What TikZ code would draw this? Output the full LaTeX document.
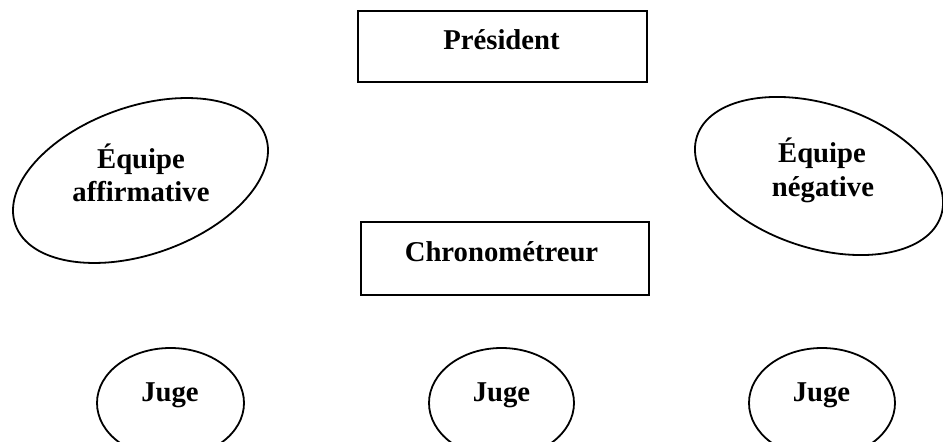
\documentclass[tikz,border=0pt]{standalone}
\usepackage{fontspec}
\setmainfont{Liberation Serif}
\usetikzlibrary{shapes.geometric}
\tikzset{
  lbl/.style={font=\fontsize{28.7}{33}\selectfont\bfseries, inner sep=0pt, anchor=base},
  boxshape/.style={draw, line width=1.9pt, inner sep=0pt, anchor=south west},
  ovalshape/.style={draw, ellipse, line width=1.8pt, inner sep=0pt},
}
\begin{document}
\begin{tikzpicture}[x=1pt,y=1pt]
\useasboundingbox (0,0) rectangle (943,442);
\clip (0,0) rectangle (943,442);
% boxes
\node[boxshape, minimum width=289pt, minimum height=71pt] (pres) at (357,359) {};
\node[boxshape, minimum width=288pt, minimum height=73pt] (chrono) at (360,146) {};
\node[lbl] (presT) at (501.5,392) {Président};
\node[lbl] (chronoT) at (501.5,180) {Chronométreur};
% team ellipses
\node[ovalshape, minimum width=265.4pt, minimum height=147.6pt, rotate=19.5] (aff) at (140.5,261.5) {};
\node[ovalshape, minimum width=256.6pt, minimum height=143.8pt, rotate=-18] (neg) at (819,266) {};
\node[lbl] (affT1) at (141,273) {Équipe};
\node[lbl] (affT2) at (141,240) {affirmative};
\node[lbl] (negT1) at (822,279) {Équipe};
\node[lbl] (negT2) at (823,245) {négative};
% judges
\node[ovalshape, minimum width=147pt, minimum height=110pt] (j1) at (170.5,39) {};
\node[ovalshape, minimum width=145pt, minimum height=110pt] (j2) at (501.5,39) {};
\node[ovalshape, minimum width=146pt, minimum height=110pt] (j3) at (822,39) {};
\node[lbl] (j1T) at (170,40) {Juge};
\node[lbl] (j2T) at (501.5,40) {Juge};
\node[lbl] (j3T) at (821.5,40) {Juge};
\end{tikzpicture}
\end{document}
